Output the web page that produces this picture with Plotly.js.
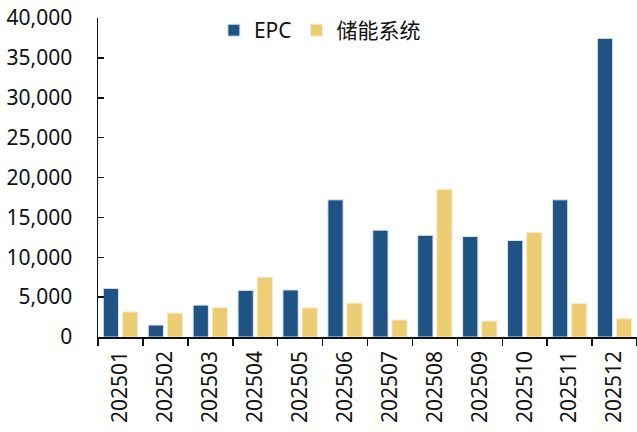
<!DOCTYPE html>
<html>
<head>
<meta charset="utf-8">
<script src="https://cdn.plot.ly/plotly-3.0.1.min.js"></script>
<style>html,body{margin:0;padding:0;background:#fff;}#chart{width:637px;height:432px;}</style>
</head>
<body>
<div id="chart"></div>
<script>
const months = ["202501","202502","202503","202504","202505","202506","202507","202508","202509","202510","202511","202512"];
const epc = [6100, 1500, 4000, 5850, 5900, 17200, 13400, 12750, 12600, 12100, 17200, 37450];
const storage = [3150, 3000, 3700, 7500, 3650, 4250, 2150, 18500, 2000, 13100, 4200, 2300];
const seriesNames = ["EPC", "储能系统"];

const fontFam = "Noto Sans, Noto Sans CJK SC, sans-serif";
const data = [
  {type: "bar", name: seriesNames[0], x: months, y: epc,
   marker: {color: "#1F5383", line: {color: "#dfe6ee", width: 1}}},
  {type: "bar", name: seriesNames[1], x: months, y: storage,
   marker: {color: "#EDCD74", line: {color: "#f7ecd0", width: 1}}}
];
const layout = {
  width: 637, height: 432,
  margin: {l: 98, r: 0, t: 18, b: 95},
  paper_bgcolor: "#fff", plot_bgcolor: "#fff",
  font: {family: fontFam, size: 21, color: "#111"},
  barmode: "group", bargap: 0.15, bargroupgap: 0.2,
  showlegend: true,
  legend: {orientation: "h", x: 0.215, xanchor: "left", y: 1.025, yanchor: "top",
           font: {size: 21, family: fontFam}, bgcolor: "rgba(0,0,0,0)", itemwidth: 30},
  xaxis: {type: "category", showline: true, linecolor: "#111", linewidth: 1.5,
          ticks: "outside", tickson: "boundaries", ticklen: 7, tickwidth: 1.5, tickcolor: "#111",
          tickangle: -90, showgrid: false, zeroline: false, ticklabelstandoff: 4,
          tickfont: {size: 21}},
  yaxis: {range: [0, 40000], dtick: 5000, tickformat: ",d", showline: true, linecolor: "#111",
          linewidth: 1.5, ticks: "inside", ticklen: 6, tickwidth: 1.5, tickcolor: "#111",
          showgrid: false, zeroline: false, ticklabelstandoff: 20, tickfont: {size: 21}}
};
Plotly.newPlot("chart", data, layout, {displayModeBar: false, staticPlot: true});
</script>
</body>
</html>
